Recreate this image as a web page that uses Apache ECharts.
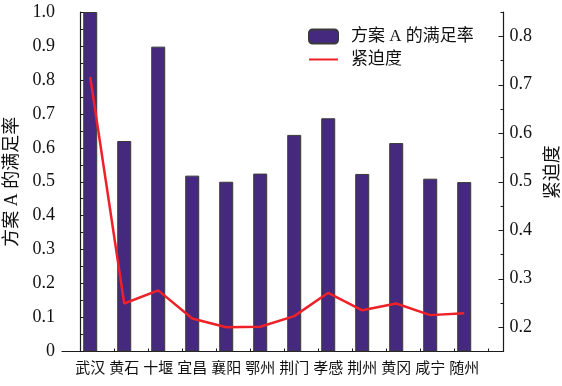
<!DOCTYPE html>
<html>
<head>
<meta charset="utf-8">
<script src="https://cdn.jsdelivr.net/npm/echarts@6/dist/echarts.min.js"></script>
<style>
html,body{margin:0;padding:0;background:#fff;}
#c{width:562px;height:386px;}
</style>
</head>
<body>
<div id="c"></div>
<script>
// ---- data ----
const categories = ['武汉','黄石','十堰','宜昌','襄阳','鄂州','荆门','孝感','荆州','黄冈','咸宁','随州'];
const satisfaction = [1.0, 0.620, 0.898, 0.518, 0.500, 0.524, 0.638, 0.687, 0.523, 0.614, 0.509, 0.499];
const urgency = [0.716, 0.249, 0.276, 0.218, 0.200, 0.201, 0.223, 0.271, 0.235, 0.249, 0.225, 0.229];
const rightTickLabels = [0.2, 0.3, 0.4, 0.5, 0.6, 0.7, 0.8];
const barName = '方案 A 的满足率';
const lineName = '紧迫度';

// ---- layout helpers ----
const OFFSET = 0.3; // bar centre offset from x tick
const xTicks = categories.concat(['']).map((_, i) => i);
const xPos = categories.map((_, i) => i + OFFSET);
const barData = satisfaction.map((v, i) => [xPos[i], v]);
const lineData = urgency.map((v, i) => [xPos[i], v]);

const NUMFONT = '"Liberation Serif", "Times New Roman", serif';
const FONT = '"Liberation Serif", "Times New Roman", "Noto Sans CJK SC", serif';
const AX = '#1a1a1a';

const chart = echarts.init(document.getElementById('c'), null, {renderer: 'canvas'});
chart.setOption({
  animation: false,
  backgroundColor: '#fff',
  textStyle: {fontFamily: FONT, color: '#111'},
  grid: {left: 62, right: 58.5, top: 12, bottom: 34.5, containLabel: false, outerBoundsMode: 'none'},
  legend: {
    left: 303, top: 23, orient: 'vertical',
    itemWidth: 29, itemHeight: 14, itemGap: 6,
    textStyle: {fontSize: 17, fontFamily: FONT, color: '#111', padding: [0, 0, 0, 8]},
    data: [barName, {name: lineName, itemStyle: {opacity: 0}}]
  },
  xAxis: {
    type: 'value', min: -0.53, max: 12.455,
    axisLine: {show: true, lineStyle: {color: AX, width: 1.2}},
    axisTick: {show: true, inside: true, length: 3, customValues: xTicks, lineStyle: {color: AX}},
    axisLabel: {
      customValues: xPos, fontSize: 15, margin: 10, color: '#111', fontFamily: FONT,
      formatter: v => categories[Math.round(v - OFFSET)] || ''
    },
    splitLine: {show: false}
  },
  yAxis: [
    {
      type: 'value', position: 'left', min: 0, max: 1, interval: 0.1,
      name: barName, nameLocation: 'middle', nameGap: 39,
      nameTextStyle: {fontSize: 18, color: '#111', fontFamily: FONT},
      axisLine: {show: true, lineStyle: {color: AX, width: 1.2}},
      axisTick: {show: true, inside: true, length: 6, lineStyle: {color: AX}},
      minorTick: {show: true, splitNumber: 2, length: 3.5, lineStyle: {color: AX}},
      axisLabel: {fontSize: 18, margin: 7, color: '#111', fontFamily: NUMFONT,
        formatter: v => (Math.abs(v) < 1e-9 ? '0' : v.toFixed(1))},
      splitLine: {show: false}
    },
    {
      type: 'value', position: 'right', min: 0.15, max: 0.85, interval: 0.05,
      name: lineName, nameLocation: 'middle', nameGap: 41,
      nameTextStyle: {fontSize: 18, color: '#111', fontFamily: FONT, padding: [0, 0, 0, 19]},
      axisLine: {show: true, lineStyle: {color: AX, width: 1.2}},
      axisTick: {show: true, inside: true, length: 3, lineStyle: {color: AX}},
      axisLabel: {fontSize: 18, margin: 6, color: '#111', fontFamily: NUMFONT,
        formatter: v => {
          const r = Math.round(v * 10) / 10;
          return (Math.abs(v - r) < 1e-6 && rightTickLabels.some(t => Math.abs(t - r) < 1e-6)) ? r.toFixed(1) : '';
        }},
      splitLine: {show: false}
    },
    {
      type: 'value', position: 'right', min: 0.15, max: 0.85,
      axisLine: {show: false},
      axisTick: {show: true, inside: true, length: 5, customValues: rightTickLabels, lineStyle: {color: AX}},
      axisLabel: {show: false},
      splitLine: {show: false}
    }
  ],
  series: [
    {
      name: barName, type: 'bar', yAxisIndex: 0, barWidth: 14,
      itemStyle: {color: '#44297E', borderColor: '#3a3a3a', borderWidth: 1},
      data: barData
    },
    {
      name: lineName, type: 'line', yAxisIndex: 1, symbol: 'none',
      lineStyle: {color: '#EE2129', width: 2.5},
      itemStyle: {color: '#EE2129'},
      data: lineData
    }
  ]
});
</script>
</body>
</html>
